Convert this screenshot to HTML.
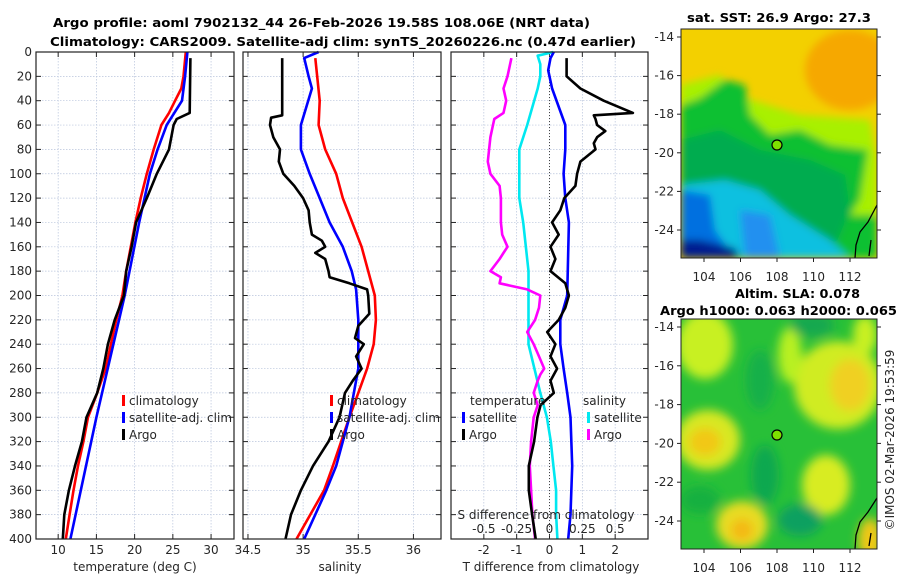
<!DOCTYPE html>
<html><head><meta charset="utf-8"><style>
html,body{margin:0;padding:0;background:#fff;}
svg{display:block;font-family:"DejaVu Sans","Liberation Sans",sans-serif;}
.tk{font-size:12px;fill:#262626;}
.tt{font-size:12.5px;font-weight:bold;fill:#000;}
</style></head><body>
<svg id="fig" width="900" height="580" viewBox="0 0 900 580" xmlns="http://www.w3.org/2000/svg">
<defs>
<filter id="bl" x="-20%" y="-20%" width="140%" height="140%"><feGaussianBlur stdDeviation="4"/></filter>
<filter id="bl2" x="-20%" y="-20%" width="140%" height="140%"><feGaussianBlur stdDeviation="5"/></filter>
<clipPath id="cm1"><rect x="681" y="29" width="196" height="229"/></clipPath>
<clipPath id="cm2"><rect x="681" y="319" width="196" height="230"/></clipPath>
</defs>
<text class="tt" x="53" y="27" textLength="537" lengthAdjust="spacingAndGlyphs">Argo profile: aoml 7902132_44 26-Feb-2026 19.58S 108.06E (NRT data)</text>
<text class="tt" x="50" y="46" textLength="586" lengthAdjust="spacingAndGlyphs">Climatology: CARS2009. Satellite-adj clim: synTS_20260226.nc (0.47d earlier)</text>
<g id="panels"></g>

<!-- SST map -->
<g>
<text class="tt" x="779" y="22" text-anchor="middle" textLength="184" lengthAdjust="spacingAndGlyphs">sat. SST: 26.9 Argo: 27.3</text>
<g clip-path="url(#cm1)">
<rect x="681" y="29" width="196" height="229" fill="#f3d000"/>
<g filter="url(#bl)">
<ellipse cx="850" cy="70" rx="45" ry="40" fill="#f6a800"/>
<polygon points="681,85 720,75 735,95 800,115 870,120 877,160 877,258 681,258" fill="#a8f000"/>
<polygon points="681,105 700,98 725,80 745,85 750,115 770,135 800,130 830,145 868,150 860,200 850,215 877,215 877,258 681,258" fill="#10c030"/>
<polygon points="681,140 720,130 760,150 810,160 845,175 850,210 830,258 681,258" fill="#00ac50"/>
<polygon points="681,185 725,180 760,190 790,215 830,240 850,258 681,258" fill="#10c0e0"/>
<polygon points="681,190 710,195 715,230 735,258 681,258" fill="#0070e0"/>
<polygon points="681,240 700,240 735,248 740,258 681,258" fill="#001a90"/>
<polygon points="740,210 770,215 780,258 745,258" fill="#2090f0"/>
</g>
</g>
<path d="M877,205 L868,222 L860,232 L856,245 L855,258" fill="none" stroke="#000" stroke-width="1.3"/>
<path d="M871,240 L869,256" fill="none" stroke="#000" stroke-width="1.3"/>
<circle cx="777" cy="145" r="5" fill="#7ee000" stroke="#000" stroke-width="1.2"/>
<rect x="681" y="29" width="196" height="229" fill="none" stroke="#222" stroke-width="1"/>
</g>

<!-- SLA map -->
<g>
<text class="tt" x="735" y="298" textLength="125" lengthAdjust="spacingAndGlyphs">Altim. SLA: 0.078</text>
<text class="tt" x="660" y="315" textLength="237" lengthAdjust="spacingAndGlyphs">Argo h1000: 0.063 h2000: 0.065</text>
<g clip-path="url(#cm2)">
<rect x="681" y="319" width="196" height="230" fill="#28c038"/>
<g filter="url(#bl2)">
<ellipse cx="705" cy="345" rx="28" ry="34" fill="#c8f020"/>
<ellipse cx="708" cy="440" rx="32" ry="30" fill="#d8e820"/>
<ellipse cx="705" cy="442" rx="16" ry="14" fill="#f2c818"/>
<ellipse cx="838" cy="385" rx="44" ry="44" fill="#d0ec20"/>
<ellipse cx="850" cy="385" rx="20" ry="26" fill="#f0d020"/>
<ellipse cx="790" cy="355" rx="12" ry="28" fill="#b8f020"/>
<ellipse cx="826" cy="485" rx="24" ry="30" fill="#d8ec20"/>
<ellipse cx="742" cy="525" rx="26" ry="24" fill="#e8dc20"/>
<ellipse cx="742" cy="530" rx="11" ry="11" fill="#f4b818"/>
<ellipse cx="865" cy="335" rx="12" ry="20" fill="#c8f020"/>
<ellipse cx="765" cy="475" rx="14" ry="30" fill="#10a850"/>
<ellipse cx="800" cy="520" rx="22" ry="16" fill="#10a060"/>
<ellipse cx="812" cy="325" rx="22" ry="12" fill="#18a850"/>
<ellipse cx="760" cy="380" rx="14" ry="30" fill="#18b048"/>
<ellipse cx="700" cy="500" rx="20" ry="14" fill="#18b040"/>
<ellipse cx="870" cy="540" rx="12" ry="22" fill="#f0c818"/>
</g>
</g>
<path d="M877,498 L868,512 L860,522 L856,535 L855,549" fill="none" stroke="#000" stroke-width="1.3"/>
<path d="M871,533 L869,546" fill="none" stroke="#000" stroke-width="1.3"/>
<circle cx="777" cy="435" r="5" fill="#7ee000" stroke="#000" stroke-width="1.2"/>
<rect x="681" y="319" width="196" height="230" fill="none" stroke="#222" stroke-width="1"/>
</g>
<text class="tk" transform="translate(894,440) rotate(-90)" text-anchor="middle">©IMOS 02-Mar-2026 19:53:59</text>
<g id="mapaxes"></g>
</svg>
<script>
// ---------- data ----------
const tDepth = [0,20,30,40,50,60,80,100,120,140,160,180,200,220,240,260,280,300,320,340,360,380,400];
const tClim  = [26.7,26.4,26.1,25.3,24.5,23.5,22.5,21.6,20.8,20.1,19.5,18.9,18.4,17.6,16.9,16.2,15.1,13.9,13.3,12.6,12.0,11.5,11.0];
const tSatDepth = [0,20,40,60,80,100,140,200,300,400];
const tSat   = [26.9,26.6,26.2,24.2,23.0,22.0,20.6,18.7,15.0,11.6];
const argoTDepth = [5,50,55,60,80,100,120,140,160,180,200,220,240,260,280,300,320,340,360,380,400];
const argoT  = [27.3,27.2,25.5,25.1,24.5,22.9,21.6,20.2,19.6,18.9,18.6,17.4,16.5,15.9,15.1,13.7,13.1,12.2,11.4,10.8,10.6];

const sClimDepth = [5,40,60,80,100,120,160,200,220,240,260,280,300,340,360,400];
const sClim  = [35.11,35.15,35.14,35.20,35.30,35.36,35.53,35.65,35.66,35.64,35.58,35.50,35.42,35.27,35.19,34.94];
const sSatDepth = [0,5,20,30,60,80,100,120,140,160,180,195,220,260,300,340,360,400];
const sSat   = [35.14,35.01,35.05,35.08,34.98,34.98,35.06,35.15,35.24,35.36,35.44,35.48,35.50,35.50,35.42,35.30,35.21,35.01];
const argoSDepth = [5,52,54,60,70,80,90,100,110,120,130,140,150,155,160,165,170,180,185,190,195,200,215,225,235,240,250,260,270,280,300,320,340,360,380,400];
const argoS  = [34.81,34.81,34.71,34.70,34.73,34.79,34.78,34.82,34.92,35.00,35.05,35.06,35.08,35.17,35.20,35.11,35.20,35.23,35.24,35.42,35.58,35.59,35.60,35.50,35.47,35.55,35.48,35.53,35.45,35.38,35.33,35.23,35.09,34.98,34.89,34.84];

const dTArgoDepth = [5,20,30,40,50,52,55,60,65,70,75,80,90,100,110,120,130,140,150,160,170,180,190,200,210,220,230,240,250,260,270,280,290,300,320,340,360,380,400];
const dTArgo = [0.52,0.52,0.94,1.65,2.54,1.35,1.4,1.45,1.7,1.45,1.35,1.4,0.94,0.84,0.79,0.45,0.33,0.08,0.28,0.03,0.18,0.03,0.48,0.59,0.48,0.28,-0.07,0.18,0.03,0.23,0.03,0.13,-0.27,-0.37,-0.47,-0.63,-0.63,-0.53,-0.42];
const dTSatDepth = [0,5,15,30,60,80,100,120,140,200,220,240,260,280,300,340,380,400];
const dTSat  = [0.13,0.03,-0.04,0.08,0.48,0.48,0.43,0.48,0.59,0.54,0.33,0.33,0.43,0.54,0.64,0.69,0.64,0.57];
const dSSatDepth = [0,3,10,20,30,60,80,100,120,140,180,200,240,280,300,320,340,360,380,400];
const dSSat  = [0.03,-0.09,-0.07,-0.07,-0.09,-0.17,-0.23,-0.23,-0.23,-0.20,-0.16,-0.16,-0.16,-0.07,-0.02,0.01,0.03,0.05,0.05,0.06];
const dSArgoDepth = [5,10,20,30,40,50,55,60,70,80,90,100,110,120,140,150,160,165,170,180,185,190,195,200,210,220,230,240,250,260,265,270,280,290,300,320,340,360,380,400];
const dSArgo = [-0.29,-0.30,-0.32,-0.35,-0.33,-0.35,-0.42,-0.43,-0.45,-0.46,-0.47,-0.45,-0.38,-0.37,-0.37,-0.36,-0.32,-0.35,-0.38,-0.45,-0.37,-0.38,-0.17,-0.07,-0.08,-0.11,-0.17,-0.12,-0.08,-0.04,-0.07,-0.09,-0.12,-0.09,-0.12,-0.14,-0.15,-0.14,-0.13,-0.11];

const depthTicks = [0,20,40,60,80,100,120,140,160,180,200,220,240,260,280,300,320,340,360,380,400];
const tTicks = [10,15,20,25,30];
const sTicks = [34.5,35,35.5,36];
const dTTicks = [-2,-1,0,1,2];
const dSTicks = [-0.5,-0.25,0,0.25,0.5];
const lonTicks = [104,106,108,110,112];
const latTicks = [-14,-16,-18,-20,-22,-24];

// ---------- axes ----------
const NS='http://www.w3.org/2000/svg';
const Y0=52, Y1=539;
const yD = d => Y0 + d*(Y1-Y0)/400;
const P1={x0:36,x1:234,min:7.1,max:33};
const P2={x0:243,x1:441,min:34.455,max:36.25};
const P3={x0:451,x1:648,min:-3,max:3};
const xOf=(p,v)=>p.x0+(v-p.min)*(p.x1-p.x0)/(p.max-p.min);
const root=document.getElementById('panels');
function el(tag,attrs,parent){const e=document.createElementNS(NS,tag);for(const k in attrs)e.setAttribute(k,attrs[k]);(parent||root).appendChild(e);return e;}
function txt(x,y,s,anchor,parent,cls){const t=el('text',{x:x,y:y,'text-anchor':anchor||'middle',class:cls||'tk'},parent);t.textContent=s;return t;}

function panel(p,name,xticks,showDepth){
  const g=el('g',{});
  
  
  depthTicks.forEach(d=>{
    el('line',{x1:p.x0,x2:p.x1,y1:yD(d),y2:yD(d),stroke:'#b8c4dc','stroke-width':0.7,'stroke-dasharray':'1.5,1.5'},g);
    el('line',{x1:p.x0,x2:p.x0+5,y1:yD(d),y2:yD(d),stroke:'#222'},g);
    el('line',{x1:p.x1-5,x2:p.x1,y1:yD(d),y2:yD(d),stroke:'#222'},g);
    if(showDepth){const t=txt(p.x0-4,yD(d)+4,String(d),'end',g);}
  });
  xticks.forEach(v=>{
    const x=xOf(p,v);
    el('line',{x1:x,x2:x,y1:Y0,y2:Y1,stroke:'#b8c4dc','stroke-width':0.7,'stroke-dasharray':'1.5,1.5'},g);
    el('line',{x1:x,x2:x,y1:Y1,y2:Y1-5,stroke:'#222'},g);
    el('line',{x1:x,x2:x,y1:Y0,y2:Y0+5,stroke:'#222'},g);
    const t=txt(x,554,String(v),'middle',g);
    
    
  });
  return g;
}
function series(p,depths,vals,color,name,g,sw){
  const pts=depths.map((d,i)=>xOf(p,vals[i]).toFixed(1)+','+yD(d).toFixed(1)).join(' ');
  const pl=el('polyline',{points:pts,fill:'none',stroke:color,'stroke-width':sw||2.6,'stroke-linejoin':'round'},g);
  
  
}
function frame(p,g){el('rect',{x:p.x0,y:Y0,width:p.x1-p.x0,height:Y1-Y0,fill:'none',stroke:'#222','stroke-width':1.2},g);}
function legend(g,x,y,items){
  items.forEach((it,i)=>{
    el('rect',{x:x,y:y+i*17-10,width:3,height:11,fill:it[1]},g);
    const t=txt(x+7,y+i*17,it[0],'start',g);
    
    
  });
}

// panel 1
const g1=panel(P1,'temperature-panel',tTicks,true);
series(P1,tDepth,tClim,'#ff0000','temp-climatology-line',g1);
series(P1,tSatDepth,tSat,'#0000ff','temp-satellite-line',g1);
series(P1,argoTDepth,argoT,'#000','temp-argo-line',g1);
frame(P1,g1);
legend(g1,122,405,[['climatology','#f00'],['satellite-adj. clim','#00f'],['Argo','#000']]);
const xl1=txt(135,571,'temperature (deg C)','middle',g1);



// panel 2
const g2=panel(P2,'salinity-panel',sTicks,false);
series(P2,sClimDepth,sClim,'#ff0000','sal-climatology-line',g2);
series(P2,sSatDepth,sSat,'#0000ff','sal-satellite-line',g2);
series(P2,argoSDepth,argoS,'#000','sal-argo-line',g2);
frame(P2,g2);
legend(g2,330,405,[['climatology','#f00'],['satellite-adj. clim','#00f'],['Argo','#000']]);
const xl2=txt(340,571,'salinity','middle',g2);



// panel 3
const g3=panel(P3,'difference-panel',dTTicks,false);
el('line',{x1:xOf(P3,0),x2:xOf(P3,0),y1:Y0,y2:Y1,stroke:'#444','stroke-width':1,'stroke-dasharray':'1,2'},g3);
series(P3,dSSatDepth,dSSat.map(v=>v*4),'#00e8f0','sal-diff-satellite-line',g3);
series(P3,dSArgoDepth,dSArgo.map(v=>v*4),'#ff00ff','sal-diff-argo-line',g3);
series(P3,dTSatDepth,dTSat,'#0000ff','temp-diff-satellite-line',g3);
series(P3,dTArgoDepth,dTArgo,'#000','temp-diff-argo-line',g3);
frame(P3,g3);
txt(470,405,'temperature','start',g3);
txt(583,405,'salinity','start',g3);
legend(g3,462,422,[['satellite','#00f'],['Argo','#000']]);
legend(g3,587,422,[['satellite','#00e8f0'],['Argo','#ff00ff']]);
const sl=txt(546,519,'S difference from climatology','middle',g3);


dSTicks.forEach(v=>{
  const t=txt(xOf(P3,v*4),533,String(v),'middle',g3);
  
  
});
const tl=txt(551,571,'T difference from climatology','middle',g3);



// map axes
const ma=document.getElementById('mapaxes');
function mapAxes(top,bottom,lat14,lat24){
  const lx=lon=>704+(lon-104)*(850-704)/8;
  const ly=lat=>lat14+(-14-lat)*(lat24-lat14)/10;
  lonTicks.forEach(l=>{
    el('line',{x1:lx(l),x2:lx(l),y1:bottom,y2:bottom+4,stroke:'#222'},ma);
    const t=txt(lx(l),bottom+23,String(l),'middle',ma);
    
    
  });
  latTicks.forEach(l=>{
    el('line',{x1:677,x2:681,y1:ly(l),y2:ly(l),stroke:'#222'},ma);
    el('line',{x1:877,x2:881,y1:ly(l),y2:ly(l),stroke:'#222'},ma);
    const t=txt(674,ly(l)+4,String(l),'end',ma);
    
    
  });
}
mapAxes(29,258,37,230);
mapAxes(319,549,327,521);
</script>
</body></html>
